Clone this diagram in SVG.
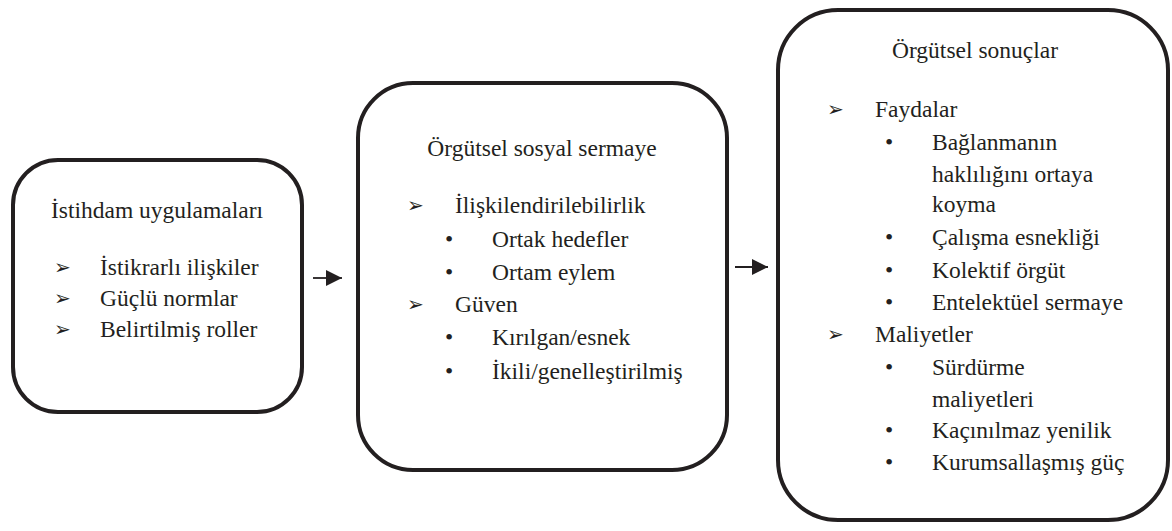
<svg xmlns="http://www.w3.org/2000/svg" width="1172" height="531" viewBox="0 0 1172 531">
<style>
.box{fill:#fff;stroke:#231f20;stroke-width:4}
.t{text-anchor:middle}
.con{stroke:#231f20;stroke-width:1.8;fill:none}
.s{font-family:"Liberation Serif",serif;font-size:23.5px;fill:#231f20}
.ar{font-family:"DejaVu Sans",sans-serif;font-size:20px;fill:#231f20}
</style>
<defs>
<marker id="ah" markerWidth="16" markerHeight="16" viewBox="0 0 16 16" refX="16" refY="8" orient="auto" markerUnits="userSpaceOnUse">
<path d="M0,0 L16,8 L0,16 Z" fill="#231f20"/>
</marker>
</defs>
<rect width="1172" height="531" fill="#fff"/>
<g id="n1">
<rect class="box" x="13" y="160" width="289" height="252" rx="45"/>
<text class="s t" x="157" y="218">İstihdam uygulamaları</text>
<text class="ar" x="54" y="274">➢</text><text class="s" x="100" y="275">İstikrarlı ilişkiler</text>
<text class="ar" x="54" y="305">➢</text><text class="s" x="100" y="306">Güçlü normlar</text>
<text class="ar" x="54" y="336">➢</text><text class="s" x="100" y="337">Belirtilmiş roller</text>
</g>
<g id="n2">
<rect class="box" x="358" y="83" width="369" height="387" rx="55"/>
<text class="s t" x="542" y="156">Örgütsel sosyal sermaye</text>
<text class="ar" x="407" y="212">➢</text><text class="s" x="455" y="213">İlişkilendirilebilirlik</text>
<text class="s" x="445" y="247">•</text><text class="s" x="492" y="247">Ortak hedefler</text>
<text class="s" x="445" y="280">•</text><text class="s" x="492" y="280">Ortam eylem</text>
<text class="ar" x="407" y="311">➢</text><text class="s" x="455" y="312">Güven</text>
<text class="s" x="445" y="345">•</text><text class="s" x="492" y="345">Kırılgan/esnek</text>
<text class="s" x="445" y="379">•</text><text class="s" x="492" y="379">İkili/genelleştirilmiş</text>
</g>
<g id="n3">
<rect class="box" x="778" y="10" width="390" height="510" rx="60"/>
<text class="s t" x="975" y="58">Örgütsel sonuçlar</text>
<text class="ar" x="827" y="116">➢</text><text class="s" x="875" y="117">Faydalar</text>
<text class="s" x="885" y="150">•</text><text class="s" x="932" y="150">Bağlanmanın</text>
<text class="s" x="932" y="182">haklılığını ortaya</text>
<text class="s" x="932" y="212">koyma</text>
<text class="s" x="885" y="245">•</text><text class="s" x="932" y="245">Çalışma esnekliği</text>
<text class="s" x="885" y="278">•</text><text class="s" x="932" y="278">Kolektif örgüt</text>
<text class="s" x="885" y="310">•</text><text class="s" x="932" y="310">Entelektüel sermaye</text>
<text class="ar" x="827" y="341">➢</text><text class="s" x="875" y="342">Maliyetler</text>
<text class="s" x="885" y="375">•</text><text class="s" x="932" y="375">Sürdürme</text>
<text class="s" x="932" y="407">maliyetleri</text>
<text class="s" x="885" y="438">•</text><text class="s" x="932" y="438">Kaçınılmaz yenilik</text>
<text class="s" x="885" y="470">•</text><text class="s" x="932" y="470">Kurumsallaşmış güç</text>
</g>
<g id="connectors">
<line class="con" x1="313" y1="278" x2="342" y2="278" marker-end="url(#ah)"/>
<line class="con" x1="735" y1="267" x2="768" y2="267" marker-end="url(#ah)"/>
</g>
</svg>
